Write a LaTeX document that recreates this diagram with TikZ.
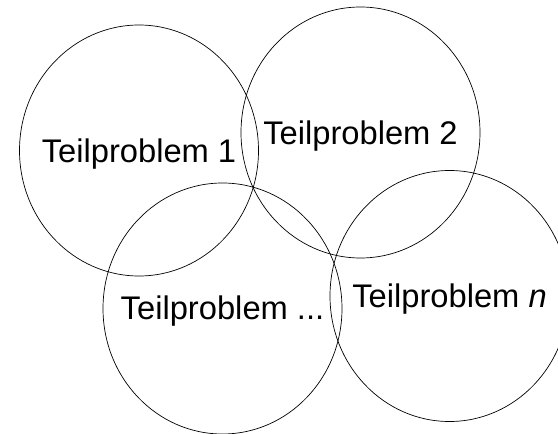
\documentclass[tikz,border=0pt]{standalone}
\usepackage{fontspec}
\setmainfont{Liberation Sans}
\usetikzlibrary{positioning}
\tikzset{
    x=1pt,y=-1pt,
    part/.style ={draw, line width=0.7pt, x radius=119.5pt, y radius=125.5pt},
    tptext/.style = {inner sep=0pt, anchor=base, font=\fontsize{32.7}{38}\selectfont}
}
\begin{document}
\begin{tikzpicture}
    \clip (0,0) rectangle (558,434);
    \coordinate (c1) at (139,150.5);
    \coordinate (c2) at (360.5,132.5);
    \coordinate (c3) at (222.5,308.5);
    \coordinate (c4) at (449.5,296);

    \node[tptext] (1) at ([yshift=-12pt]c1) {Teilproblem 1};
    \node[tptext] (2) at ([yshift=-12pt]c2) {Teilproblem 2};
    \node[tptext] (3) at ([yshift=-11pt]c3) {Teilproblem ...};
    \node[tptext] (4) at ([yshift=-11pt]c4) {Teilproblem \textit{n}};

    \draw[part] (c1) ellipse [];
    \draw[part] (c2) ellipse [];
    \draw[part] (c3) ellipse [];
    \draw[part] (c4) ellipse [];
  \end{tikzpicture}
\end{document}
